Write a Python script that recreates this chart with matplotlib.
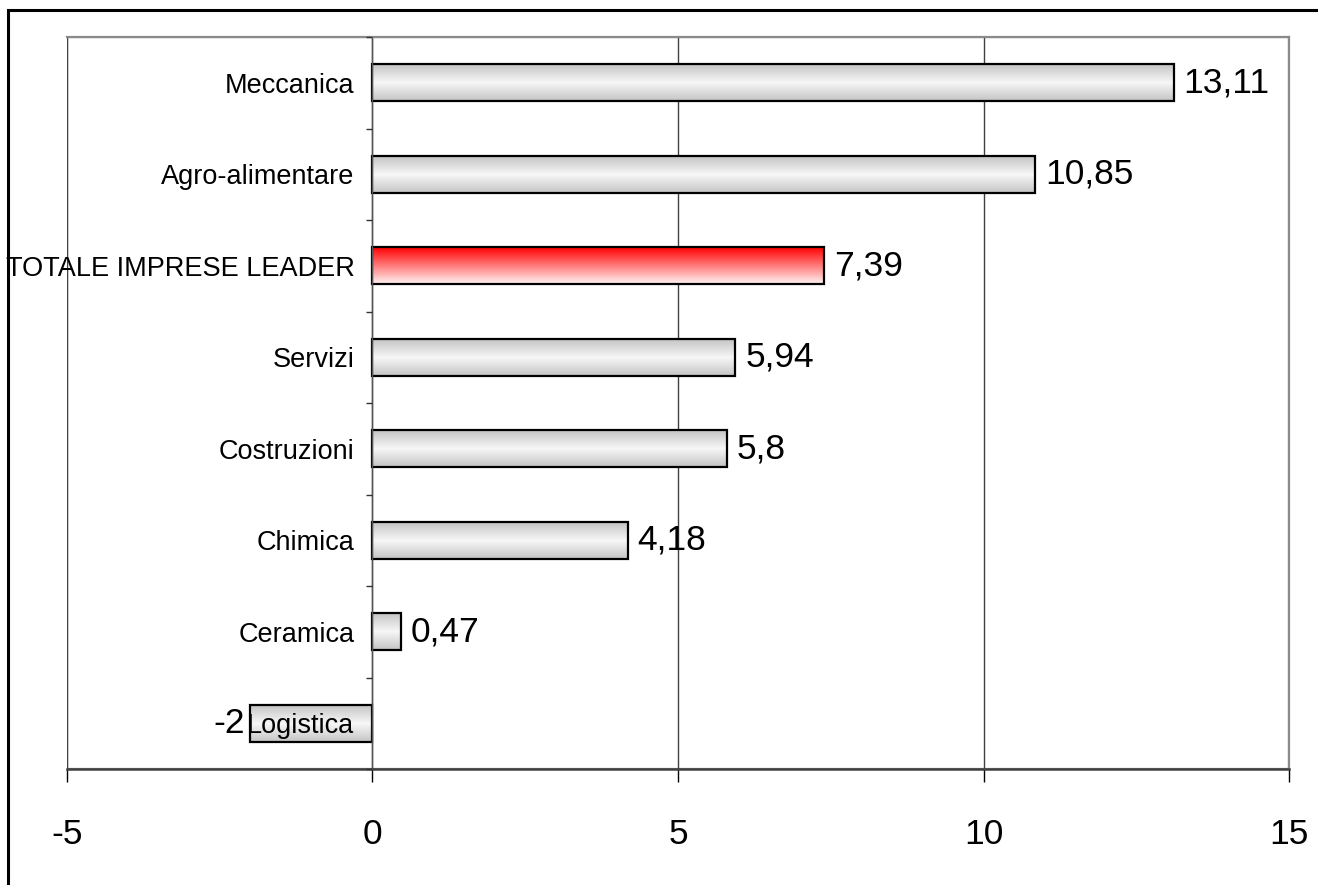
import numpy as np
import matplotlib
matplotlib.use('Agg')
import matplotlib.pyplot as plt
from matplotlib.colors import LinearSegmentedColormap
from matplotlib.patches import Rectangle

plt.rcParams['font.family'] = ['Liberation Sans', 'DejaVu Sans']

#sectors, top to bottom, and their values
sectors = ['Meccanica', 'Agro-alimentare', 'TOTALE IMPRESE LEADER', 'Servizi',
           'Costruzioni', 'Chimica', 'Ceramica', 'Logistica']
values = [13.11, 10.85, 7.39, 5.94, 5.8, 4.18, 0.47, -2]
highlight = 'TOTALE IMPRESE LEADER'
x_ticks = [-5, 0, 5, 10, 15]

#fill gradients: grey with light middle, red fading to white downwards
grey_cmap = LinearSegmentedColormap.from_list('grey', ['#c4c4c4', '#f7f7f7', '#c4c4c4'])
red_cmap = LinearSegmentedColormap.from_list('red', ['#ff0000', '#fff4f4'])
grad = np.linspace(0, 1, 256).reshape(-1, 1)

fig = plt.figure(figsize=(13.18, 8.85), dpi=100)
ax = fig.add_axes([67 / 1318, 1 - 769 / 885, (1289 - 67) / 1318, (769 - 37) / 885])

#outer chart border (runs off the right and bottom edge)
fig.patches.append(Rectangle((8 / 1318, -0.05), 1.2, 1 - 10 / 885 + 0.05,
                             transform=fig.transFigure, fill=False,
                             edgecolor='black', linewidth=2.2, clip_on=False))

pos = np.arange(len(sectors))
bar_h = 0.4
bars = ax.barh(pos, values, height=bar_h, facecolor='none',
               edgecolor='black', linewidth=1.6, zorder=2)

for rect, name, v in zip(bars, sectors, values):
    x0, w = rect.get_x(), rect.get_width()
    left, right = min(x0, x0 + w), max(x0, x0 + w)
    y0, h = rect.get_y(), rect.get_height()
    cmap = red_cmap if name == highlight else grey_cmap
    ax.imshow(grad, cmap=cmap, aspect='auto', interpolation='bilinear',
              extent=(left, right, y0 + h, y0), zorder=1.5)
    txt = f'{v:g}'.replace('.', ',')
    if v >= 0:
        ax.annotate(txt, (right, y0 + h / 2), xytext=(7, 0),
                    textcoords='offset points', ha='left', va='center',
                    fontsize=25.5)
    else:
        ax.annotate(txt, (left, y0 + h / 2), xytext=(-4, 0),
                    textcoords='offset points', ha='right', va='center',
                    fontsize=25.5)

ax.set_xlim(-5, 15)
ax.set_ylim(len(sectors) - 0.5, -0.5)

#plot frame in grey, value axis dark, category axis sits at zero
for side in ['top', 'right']:
    ax.spines[side].set_color('#8a8a8a')
    ax.spines[side].set_linewidth(1.6)
ax.spines['bottom'].set_color('#404040')
ax.spines['bottom'].set_linewidth(1.8)
ax.spines['left'].set_position(('data', 0))
ax.spines['left'].set_color('#555555')
ax.spines['left'].set_linewidth(1.0)
ax.add_patch(Rectangle((0, 0), 1, 1, transform=ax.transAxes, fill=False,
                       edgecolor='#8a8a8a', linewidth=1.6, zorder=0.5))

ax.set_xticks(x_ticks)
ax.set_xticklabels([str(t) for t in x_ticks])
ax.tick_params(axis='x', direction='out', length=9, width=1, color='black',
               labelsize=25.5, pad=26)

ax.set_yticks(pos)
ax.set_yticklabels(sectors)
ax.set_yticks(np.arange(len(sectors) + 1) - 0.5, minor=True)
ax.tick_params(axis='y', which='major', length=0, labelsize=19.5, pad=13)
ax.tick_params(axis='y', which='minor', direction='out', length=4.5,
               width=1, color='#333333')

#gridlines behind the bars, category labels on top of them
ax.xaxis.grid(True, color='#404040', linewidth=1)
ax.set_axisbelow(True)
ax.yaxis.set_zorder(3)

fig.savefig('out.png', dpi=100)
